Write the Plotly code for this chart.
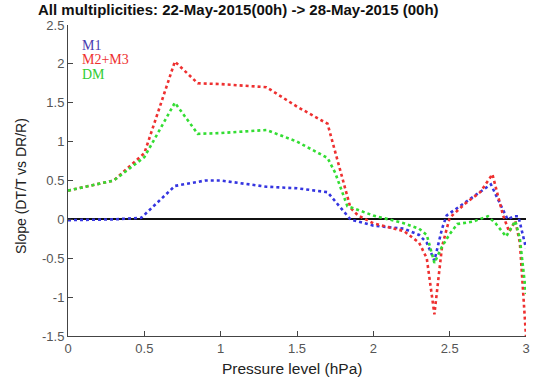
import plotly.graph_objects as go

# Data
x_m1 = [0.0, 0.3, 0.48, 0.7, 0.9, 1.0, 1.3, 1.5, 1.7, 1.85, 2.0, 2.1, 2.2, 2.3, 2.35, 2.4, 2.45, 2.48, 2.6, 2.7, 2.77, 2.85, 2.88, 2.92, 2.95, 3.0]
y_m1 = [-0.01, 0.0, 0.02, 0.43, 0.5, 0.5, 0.42, 0.4, 0.35, 0.0, -0.08, -0.1, -0.12, -0.2, -0.3, -0.53, -0.12, 0.05, 0.22, 0.35, 0.45, 0.12, 0.0, 0.04, 0.04, -0.37]

x_m23 = [0.0, 0.3, 0.5, 0.7, 0.85, 1.0, 1.3, 1.5, 1.7, 1.85, 1.9, 2.0, 2.1, 2.2, 2.3, 2.35, 2.4, 2.45, 2.5, 2.6, 2.7, 2.78, 2.85, 2.89, 2.93, 2.96, 3.0]
y_m23 = [0.37, 0.5, 0.85, 2.03, 1.75, 1.74, 1.7, 1.45, 1.23, 0.15, 0.05, -0.05, -0.1, -0.15, -0.3, -0.5, -1.22, -0.35, 0.02, 0.2, 0.35, 0.58, 0.05, -0.16, -0.02, -0.3, -1.5]

x_dm = [0.0, 0.3, 0.5, 0.7, 0.85, 1.0, 1.3, 1.5, 1.7, 1.75, 1.83, 2.0, 2.1, 2.2, 2.3, 2.35, 2.4, 2.45, 2.5, 2.55, 2.65, 2.75, 2.8, 2.87, 2.93, 2.96, 3.0]
y_dm = [0.37, 0.5, 0.8, 1.5, 1.1, 1.11, 1.15, 1.0, 0.79, 0.6, 0.17, 0.05, 0.0, -0.05, -0.12, -0.2, -0.56, -0.35, -0.19, -0.06, -0.03, 0.04, -0.05, -0.22, -0.02, -0.25, -0.96]

x_ticks = [0, 0.5, 1, 1.5, 2, 2.5, 3]
y_ticks = [-1.5, -1, -0.5, 0, 0.5, 1, 1.5, 2, 2.5]

series = [
    ("M1", x_m1, y_m1, "#3535e0", "#4a3ab0"),
    ("M2+M3", x_m23, y_m23, "#ee3030", "#ee3030"),
    ("DM", x_dm, y_dm, "#33dd33", "#33cc33"),
]

W, H = 538, 379
L, R, T, B = 68, 12, 25, 43
ph = H - T - B
pw = W - L - R

fig = go.Figure()
for name, xs, ys, col, _ in series:
    fig.add_trace(go.Scatter(x=xs, y=ys, mode="lines", name=name,
                             line=dict(color=col, width=2.6, dash="dot")))

# legend as colored serif text
for i, (name, _, _, _, tcol) in enumerate(series):
    fig.add_annotation(x=(80 - L) / pw, xref="paper", y=1 - (45 + 15 * i - T) / ph, yref="paper",
                       text=name, showarrow=False, xanchor="left", yanchor="middle",
                       font=dict(family="Liberation Serif", size=14, color=tcol))

# axis titles as annotations for exact placement
fig.add_annotation(x=(292 - L) / pw, xref="paper", y=-(368 - (H - B)) / ph, yref="paper",
                   text="Pressure level (hPa)", showarrow=False, xanchor="center", yanchor="middle",
                   font=dict(family="Liberation Sans", size=15.5, color="#222"))
fig.add_annotation(x=-(L - 21) / pw, xref="paper", y=1 - (186 - T) / ph, yref="paper",
                   text="Slope (DT/T vs DR/R)", showarrow=False, textangle=-90,
                   xanchor="center", yanchor="middle",
                   font=dict(family="Liberation Sans", size=14, color="#222"))

fig.update_layout(
    width=W, height=H,
    margin=dict(l=L, r=R, t=T, b=B, autoexpand=False),
    paper_bgcolor="white", plot_bgcolor="white",
    showlegend=False,
    title=dict(text="<b>All multiplicities: 22-May-2015(00h) -> 28-May-2015 (00h)</b>",
               x=38 / W, xanchor="left", y=1 - 10 / H, yanchor="middle",
               font=dict(family="Liberation Sans", size=15, color="#111")),
    font=dict(family="Liberation Sans"),
)
fig.update_xaxes(range=[0, 3], tickvals=x_ticks, ticktext=[f"{v:g}" for v in x_ticks],
                 showgrid=False, zeroline=False, showline=True, linecolor="#444", linewidth=1,
                 ticks="inside", ticklen=5, tickcolor="#444", automargin=False,
                 tickfont=dict(size=13, color="#555"))
fig.update_yaxes(range=[-1.5, 2.5], tickvals=y_ticks, ticktext=[f"{v:g}" for v in y_ticks],
                 showgrid=False, zeroline=True, zerolinecolor="#111", zerolinewidth=1.6,
                 showline=True, linecolor="#444", linewidth=1,
                 ticks="inside", ticklen=5, tickcolor="#444", automargin=False,
                 tickfont=dict(size=13, color="#555"))

fig.write_html("out.html")
